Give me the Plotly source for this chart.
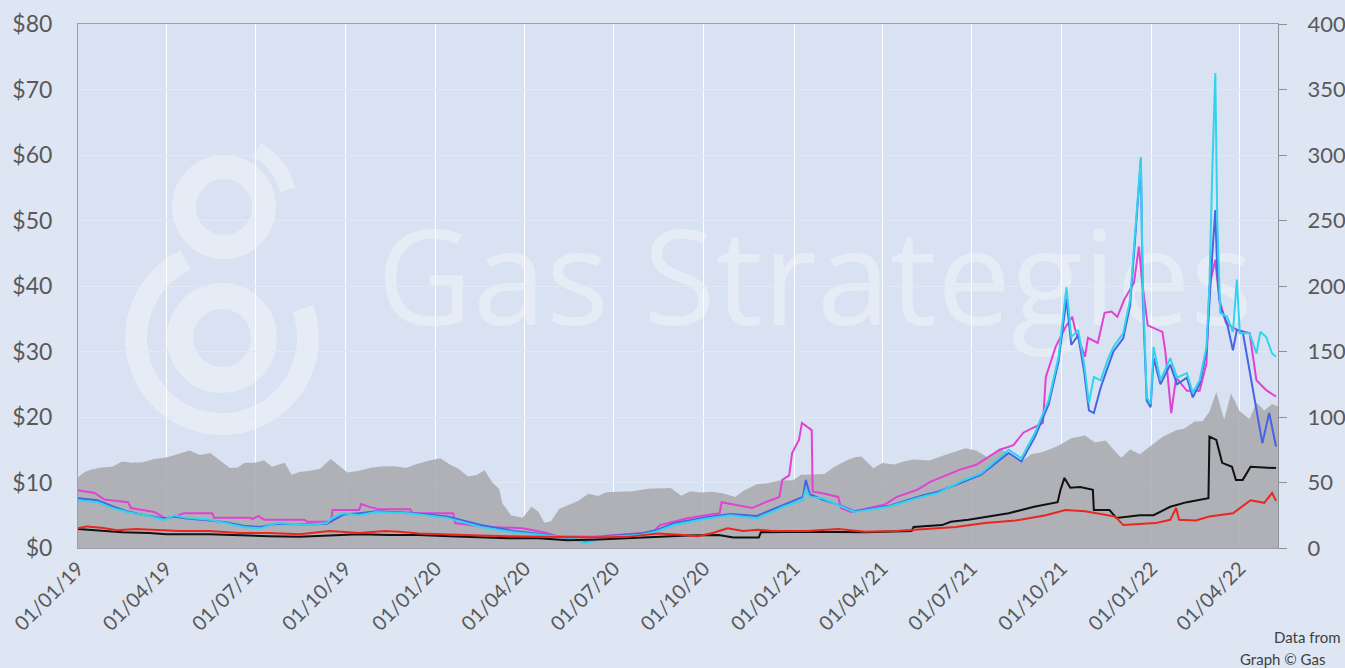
import numpy as np
import plotly.graph_objects as go

# ---------------- data ----------------
# Brent crude, $/bbl (right axis), grey area
brent_points = [
    ("2019-01-01", 54), ("2019-01-08", 58), ("2019-01-15", 60), ("2019-01-25", 61.5), ("2019-02-05", 62),
    ("2019-02-15", 66), ("2019-02-25", 65), ("2019-03-08", 65.5), ("2019-03-20", 68), ("2019-04-01", 69),
    ("2019-04-10", 71), ("2019-04-25", 74.5), ("2019-05-05", 71), ("2019-05-16", 72.5), ("2019-05-24", 68),
    ("2019-06-05", 61), ("2019-06-13", 61.5), ("2019-06-20", 65), ("2019-07-01", 65), ("2019-07-10", 67),
    ("2019-07-18", 62), ("2019-07-31", 65), ("2019-08-07", 56), ("2019-08-15", 58), ("2019-08-26", 59),
    ("2019-09-05", 60.5), ("2019-09-16", 68), ("2019-09-24", 63), ("2019-10-03", 57.7), ("2019-10-15", 59),
    ("2019-10-28", 61.5), ("2019-11-07", 62.3), ("2019-11-20", 62.4), ("2019-12-02", 61), ("2019-12-12", 64),
    ("2019-12-27", 67), ("2020-01-06", 68.5), ("2020-01-15", 64), ("2020-01-24", 60.7), ("2020-02-03", 54.5),
    ("2020-02-12", 55.8), ("2020-02-20", 59.3), ("2020-02-28", 50), ("2020-03-06", 45), ("2020-03-09", 34.4),
    ("2020-03-18", 25), ("2020-03-30", 23), ("2020-04-08", 31.5), ("2020-04-15", 27.7), ("2020-04-21", 19.3),
    ("2020-04-28", 20.5), ("2020-05-06", 29.7), ("2020-05-15", 32.5), ("2020-05-26", 36), ("2020-06-05", 41.5),
    ("2020-06-15", 39.7), ("2020-06-23", 42.6), ("2020-07-06", 43.1), ("2020-07-20", 43.3), ("2020-08-05", 45.2),
    ("2020-08-19", 45.4), ("2020-08-28", 45.8), ("2020-09-08", 39.8), ("2020-09-17", 43.3), ("2020-09-28", 42.4),
    ("2020-10-09", 42.9), ("2020-10-20", 41.7), ("2020-11-02", 38.9), ("2020-11-10", 43.6), ("2020-11-24", 48.6),
    ("2020-12-04", 49.3), ("2020-12-17", 51.5), ("2020-12-31", 51.8), ("2021-01-08", 55.9), ("2021-01-20", 56.1),
    ("2021-02-01", 56.4), ("2021-02-10", 61.5), ("2021-02-24", 67), ("2021-03-05", 69.4), ("2021-03-11", 69.6),
    ("2021-03-23", 60.8), ("2021-04-01", 64.9), ("2021-04-13", 63.7), ("2021-04-23", 66.1), ("2021-05-03", 67.6),
    ("2021-05-19", 66.7), ("2021-06-01", 70.3), ("2021-06-15", 73.9), ("2021-06-25", 76.2), ("2021-07-06", 74.5),
    ("2021-07-19", 68.6), ("2021-07-30", 76.3), ("2021-08-10", 70.6), ("2021-08-20", 65.2), ("2021-08-31", 71.6),
    ("2021-09-10", 72.9), ("2021-09-22", 76.2), ("2021-10-01", 79.3), ("2021-10-11", 83.7), ("2021-10-25", 85.9),
    ("2021-11-04", 80.5), ("2021-11-15", 82), ("2021-11-26", 72.7), ("2021-12-01", 68.9), ("2021-12-10", 75.2),
    ("2021-12-20", 71.5), ("2021-12-31", 77.8), ("2022-01-12", 84.7), ("2022-01-26", 89.9), ("2022-02-03", 91.1),
    ("2022-02-14", 96.5), ("2022-02-22", 96.8), ("2022-03-01", 104), ("2022-03-08", 119), ("2022-03-16", 98),
    ("2022-03-23", 118), ("2022-04-01", 104.4), ("2022-04-11", 98.5), ("2022-04-18", 111), ("2022-04-26", 105),
    ("2022-05-04", 110), ("2022-05-10", 108),
]

# Gas prices, $/MMBtu (left axis)
pink_points = [
    ("2019-01-01", 8.8), ("2019-01-18", 8.4), ("2019-01-28", 7.4), ("2019-02-21", 7.0), ("2019-02-24", 6.1),
    ("2019-03-20", 5.5), ("2019-04-01", 4.5), ("2019-04-12", 4.9), ("2019-04-19", 5.3), ("2019-05-18", 5.3),
    ("2019-05-20", 4.6), ("2019-06-26", 4.6), ("2019-06-28", 4.4), ("2019-07-04", 4.9), ("2019-07-10", 4.3),
    ("2019-08-20", 4.3), ("2019-08-23", 4.0), ("2019-09-16", 4.0), ("2019-09-18", 5.8), ("2019-10-15", 5.8),
    ("2019-10-17", 6.7), ("2019-10-27", 6.2), ("2019-11-05", 5.9), ("2019-12-06", 5.9), ("2019-12-09", 5.3),
    ("2020-01-19", 5.3), ("2020-01-21", 3.8), ("2020-02-20", 3.2), ("2020-03-20", 3.1), ("2020-03-30", 3.0),
    ("2020-04-20", 2.4), ("2020-05-05", 1.8), ("2020-06-10", 1.7), ("2020-07-10", 2.0), ("2020-08-10", 2.4),
    ("2020-08-17", 3.5), ("2020-09-13", 4.5), ("2020-10-03", 5.0), ("2020-10-17", 5.3), ("2020-10-19", 7.0),
    ("2020-11-15", 6.3), ("2020-11-19", 6.1), ("2020-12-03", 7.0), ("2020-12-17", 7.8), ("2020-12-20", 10.4),
    ("2020-12-27", 11.1), ("2020-12-30", 14.5), ("2021-01-06", 16.5), ("2021-01-09", 19.1), ("2021-01-16", 18.3),
    ("2021-01-19", 18.0), ("2021-01-20", 8.6), ("2021-01-29", 8.4), ("2021-02-15", 7.8), ("2021-02-18", 6.1),
    ("2021-02-28", 5.5), ("2021-04-03", 6.6), ("2021-04-16", 7.8), ("2021-05-07", 8.9), ("2021-05-20", 10.1),
    ("2021-06-20", 12.0), ("2021-07-06", 12.7), ("2021-07-30", 15.0), ("2021-08-13", 15.7), ("2021-08-23", 17.6),
    ("2021-09-12", 19.1), ("2021-09-15", 26.1), ("2021-09-25", 30.7), ("2021-10-05", 33.7), ("2021-10-12", 35.3),
    ("2021-10-15", 33.3), ("2021-10-25", 29.2), ("2021-10-28", 32.1), ("2021-11-07", 31.3), ("2021-11-14", 35.9),
    ("2021-11-21", 36.1), ("2021-11-27", 35.3), ("2021-12-04", 37.9), ("2021-12-14", 40.5), ("2021-12-19", 46.0),
    ("2021-12-22", 41.0), ("2021-12-28", 34.0), ("2022-01-04", 33.5), ("2022-01-12", 33.0), ("2022-01-15", 30.0),
    ("2022-01-18", 25.6), ("2022-01-21", 20.6), ("2022-01-26", 26.0), ("2022-02-06", 24.0), ("2022-02-19", 24.0),
    ("2022-02-26", 28.2), ("2022-03-01", 40.0), ("2022-03-07", 44.0), ("2022-03-11", 38.0), ("2022-03-18", 34.3),
    ("2022-03-29", 33.3), ("2022-04-11", 32.8), ("2022-04-18", 25.6), ("2022-04-28", 24.1), ("2022-05-08", 23.1),
]

blue_points = [
    ("2019-01-01", 7.6), ("2019-01-21", 7.3), ("2019-02-03", 6.5), ("2019-02-20", 5.6), ("2019-03-10", 5.0),
    ("2019-03-30", 4.5), ("2019-04-09", 4.8), ("2019-04-22", 4.5), ("2019-05-16", 4.2), ("2019-06-02", 3.9),
    ("2019-06-19", 3.4), ("2019-07-06", 3.2), ("2019-07-23", 3.7), ("2019-08-26", 3.6), ("2019-09-12", 3.7),
    ("2019-09-19", 4.3), ("2019-09-29", 5.1), ("2019-10-15", 5.3), ("2019-11-01", 5.6), ("2019-12-05", 5.4),
    ("2020-01-13", 4.8), ("2020-02-16", 3.5), ("2020-03-21", 2.6), ("2020-04-20", 2.1), ("2020-05-21", 1.4),
    ("2020-05-31", 0.9), ("2020-06-07", 1.0), ("2020-06-23", 1.8), ("2020-07-28", 2.2), ("2020-08-13", 2.7),
    ("2020-08-31", 3.8), ("2020-10-04", 4.7), ("2020-10-28", 5.2), ("2020-11-24", 4.9), ("2020-12-21", 6.6),
    ("2021-01-10", 7.8), ("2021-01-13", 10.4), ("2021-01-17", 8.2), ("2021-01-30", 7.4), ("2021-02-19", 6.4),
    ("2021-03-04", 5.6), ("2021-04-07", 6.4), ("2021-05-11", 8.0), ("2021-05-28", 8.6), ("2021-06-21", 10.0),
    ("2021-07-11", 11.2), ("2021-08-08", 14.5), ("2021-08-21", 13.2), ("2021-09-04", 17.0), ("2021-09-18", 22.0),
    ("2021-09-28", 28.5), ("2021-10-06", 38.0), ("2021-10-11", 31.0), ("2021-10-18", 32.5), ("2021-10-24", 27.0),
    ("2021-10-29", 21.0), ("2021-11-03", 20.6), ("2021-11-10", 24.5), ("2021-11-17", 27.5), ("2021-11-23", 30.0),
    ("2021-12-03", 32.0), ("2021-12-10", 37.0), ("2021-12-15", 47.0), ("2021-12-21", 59.3), ("2021-12-23", 38.0),
    ("2021-12-27", 22.5), ("2021-12-31", 21.5), ("2022-01-03", 29.0), ("2022-01-10", 25.0), ("2022-01-20", 28.0),
    ("2022-01-27", 25.0), ("2022-02-06", 26.0), ("2022-02-12", 23.0), ("2022-02-19", 25.0), ("2022-02-26", 30.0),
    ("2022-03-01", 38.0), ("2022-03-04", 45.0), ("2022-03-07", 51.6), ("2022-03-09", 42.0), ("2022-03-12", 36.8),
    ("2022-03-19", 34.3), ("2022-03-25", 30.2), ("2022-03-29", 33.3), ("2022-04-04", 33.0), ("2022-04-14", 24.6),
    ("2022-04-24", 16.0), ("2022-05-01", 20.6), ("2022-05-08", 15.5),
]

cyan_points = [
    ("2019-01-01", 7.3), ("2019-01-21", 7.0), ("2019-02-03", 6.2), ("2019-02-20", 5.5), ("2019-03-10", 5.0),
    ("2019-03-30", 4.3), ("2019-04-09", 5.0), ("2019-04-22", 4.6), ("2019-05-16", 4.3), ("2019-06-02", 3.8),
    ("2019-06-19", 3.2), ("2019-07-06", 3.0), ("2019-07-23", 3.8), ("2019-08-26", 3.5), ("2019-09-12", 3.8),
    ("2019-09-19", 4.8), ("2019-09-29", 5.3), ("2019-10-15", 5.0), ("2019-11-01", 5.5), ("2019-12-05", 5.3),
    ("2020-01-13", 4.6), ("2020-02-16", 3.2), ("2020-03-21", 2.4), ("2020-04-20", 2.0), ("2020-05-21", 1.5),
    ("2020-05-31", 0.8), ("2020-06-07", 0.9), ("2020-06-23", 1.7), ("2020-07-28", 2.0), ("2020-08-13", 2.5),
    ("2020-08-31", 3.5), ("2020-10-04", 4.5), ("2020-10-28", 5.0), ("2020-11-24", 4.5), ("2020-12-21", 6.3),
    ("2021-01-10", 7.3), ("2021-01-13", 9.0), ("2021-01-17", 7.8), ("2021-01-30", 7.6), ("2021-02-19", 6.3),
    ("2021-03-04", 5.5), ("2021-04-07", 6.3), ("2021-05-11", 7.8), ("2021-05-28", 8.4), ("2021-06-21", 10.2),
    ("2021-07-11", 11.4), ("2021-08-08", 15.0), ("2021-08-21", 13.7), ("2021-09-04", 17.6), ("2021-09-18", 22.6),
    ("2021-09-28", 29.2), ("2021-10-06", 39.8), ("2021-10-11", 32.2), ("2021-10-18", 33.3), ("2021-10-24", 28.2),
    ("2021-10-29", 22.1), ("2021-11-03", 26.1), ("2021-11-10", 25.6), ("2021-11-17", 28.7), ("2021-11-23", 30.7),
    ("2021-12-03", 32.8), ("2021-12-10", 37.9), ("2021-12-15", 47.5), ("2021-12-21", 59.7), ("2021-12-23", 40.0),
    ("2021-12-27", 23.0), ("2021-12-31", 22.0), ("2022-01-03", 30.7), ("2022-01-10", 25.6), ("2022-01-20", 29.0),
    ("2022-01-27", 26.0), ("2022-02-06", 26.7), ("2022-02-12", 23.7), ("2022-02-19", 25.6), ("2022-02-26", 30.7),
    ("2022-03-01", 40.0), ("2022-03-04", 58.0), ("2022-03-07", 72.5), ("2022-03-09", 50.0), ("2022-03-12", 35.9),
    ("2022-03-19", 35.3), ("2022-03-25", 33.0), ("2022-03-29", 41.0), ("2022-04-01", 32.8), ("2022-04-11", 32.8),
    ("2022-04-18", 29.7), ("2022-04-22", 33.0), ("2022-04-28", 32.2), ("2022-05-04", 29.7), ("2022-05-08", 29.2),
]

black_points = [
    ("2019-01-01", 2.9), ("2019-01-20", 2.7), ("2019-02-15", 2.4), ("2019-03-15", 2.3), ("2019-04-01", 2.1),
    ("2019-05-15", 2.1), ("2019-06-15", 1.9), ("2019-07-15", 1.8), ("2019-08-15", 1.7), ("2019-09-15", 1.9),
    ("2019-10-15", 2.1), ("2019-11-15", 2.0), ("2019-12-15", 2.0), ("2020-01-15", 1.8), ("2020-02-15", 1.6),
    ("2020-03-15", 1.5), ("2020-04-15", 1.5), ("2020-05-15", 1.2), ("2020-06-15", 1.3), ("2020-07-15", 1.5),
    ("2020-08-15", 1.7), ("2020-09-15", 1.9), ("2020-10-16", 2.0), ("2020-10-31", 1.6), ("2020-11-26", 1.6),
    ("2020-11-28", 2.4), ("2021-01-15", 2.5), ("2021-03-15", 2.4), ("2021-05-01", 2.6), ("2021-05-03", 3.2),
    ("2021-06-01", 3.5), ("2021-06-10", 4.0), ("2021-06-28", 4.3), ("2021-07-15", 4.7), ("2021-08-08", 5.3),
    ("2021-09-03", 6.3), ("2021-09-27", 7.0), ("2021-09-30", 8.9), ("2021-10-04", 10.7), ("2021-10-10", 9.2),
    ("2021-10-20", 9.3), ("2021-11-02", 8.9), ("2021-11-03", 5.8), ("2021-11-19", 5.8), ("2021-11-26", 4.6),
    ("2021-12-20", 5.0), ("2022-01-03", 5.0), ("2022-01-20", 6.3), ("2022-02-06", 7.0), ("2022-02-28", 7.6),
    ("2022-03-01", 17.0), ("2022-03-08", 16.5), ("2022-03-14", 13.0), ("2022-03-24", 12.4), ("2022-03-28", 10.4),
    ("2022-04-04", 10.4), ("2022-04-12", 12.4), ("2022-05-08", 12.2),
]

red_points = [
    ("2019-01-01", 3.0), ("2019-01-10", 3.3), ("2019-01-25", 3.1), ("2019-02-10", 2.7), ("2019-03-01", 2.9),
    ("2019-03-20", 2.8), ("2019-04-15", 2.6), ("2019-05-15", 2.6), ("2019-06-15", 2.3), ("2019-07-15", 2.3),
    ("2019-08-15", 2.1), ("2019-09-15", 2.6), ("2019-10-15", 2.3), ("2019-11-10", 2.6), ("2019-11-25", 2.5),
    ("2019-12-15", 2.2), ("2020-01-15", 2.0), ("2020-02-15", 1.9), ("2020-03-15", 1.8), ("2020-04-15", 1.7),
    ("2020-05-15", 1.7), ("2020-06-15", 1.6), ("2020-07-15", 1.7), ("2020-08-15", 2.2), ("2020-09-10", 2.0),
    ("2020-09-25", 1.8), ("2020-10-10", 2.3), ("2020-10-25", 3.0), ("2020-11-10", 2.6), ("2020-11-25", 2.8),
    ("2020-12-10", 2.6), ("2021-01-15", 2.6), ("2021-02-15", 2.9), ("2021-03-15", 2.5), ("2021-04-15", 2.6),
    ("2021-05-15", 2.9), ("2021-06-15", 3.2), ("2021-07-15", 3.8), ("2021-08-15", 4.2), ("2021-09-15", 5.0),
    ("2021-10-05", 5.8), ("2021-10-25", 5.6), ("2021-11-10", 5.2), ("2021-11-25", 4.8), ("2021-12-03", 3.5),
    ("2021-12-20", 3.6), ("2022-01-05", 3.8), ("2022-01-20", 4.3), ("2022-01-26", 6.1), ("2022-01-29", 4.3),
    ("2022-02-15", 4.2), ("2022-03-01", 4.8), ("2022-03-25", 5.3), ("2022-04-12", 7.3), ("2022-04-26", 6.9),
    ("2022-05-04", 8.4), ("2022-05-08", 7.2),
]

x_tick_dates = ["2019-01-01", "2019-04-01", "2019-07-01", "2019-10-01", "2020-01-01", "2020-04-01",
                "2020-07-01", "2020-10-01", "2021-01-01", "2021-04-01", "2021-07-01", "2021-10-01",
                "2022-01-01", "2022-04-01"]
x_range = ["2019-01-01", "2022-05-10"]
left_range = [0, 80]
right_range = [0, 400]
credit_lines = ["Data from", "Graph © Gas"]


def split(points):
    return [p[0] for p in points], [p[1] for p in points]


fig = go.Figure()

# grey area on the base (right-hand) axis so that the gas lines (overlaying axis) sit on top
bx, by = split(brent_points)
fig.add_trace(go.Scatter(x=bx, y=by, yaxis="y", mode="lines", fill="tozeroy",
                         line=dict(width=0, color="rgba(167,168,171,0.85)"),
                         fillcolor="rgba(167,168,171,0.85)", hoverinfo="skip"))

for pts, col in [(pink_points, "#e242d2"), (blue_points, "#4664e4"), (cyan_points, "#30d4ef"),
                 (black_points, "#111111"), (red_points, "#e8281e")]:
    xx, yy = split(pts)
    fig.add_trace(go.Scatter(x=xx, y=yy, yaxis="y2", mode="lines", line=dict(width=2, color=col)))

# ---------------- layout geometry (page pixels; body margin removed below) ----------------
FIG_W, FIG_H = 1345, 668
L, R, T, B = 78, 1278, 24, 548
W, H = R - L, B - T


def px2p(px, py):
    return (px - L) / W, (B - py) / H


# ---------------- watermark (decoration) ----------------
wm = "rgba(255,255,255,0.34)"
shapes = []


def circle(cx, cy, r, lw):
    x0, y0 = px2p(cx - r, cy + r)
    x1, y1 = px2p(cx + r, cy - r)
    shapes.append(dict(type="circle", xref="paper", yref="paper", x0=x0, y0=y0, x1=x1, y1=y1,
                       line=dict(color=wm, width=lw), layer="between"))


def arc(cx, cy, r, a0, a1, lw):
    ang = np.radians(np.linspace(a0, a1, 60))
    pts = [px2p(cx + r * np.cos(a), cy - r * np.sin(a)) for a in ang]
    path = "M " + " L ".join(f"{p[0]:.5f},{p[1]:.5f}" for p in pts)
    shapes.append(dict(type="path", xref="paper", yref="paper", path=path,
                       line=dict(color=wm, width=lw), layer="between"))


circle(224, 207, 40, 24)
circle(222, 338, 42, 26)
arc(222, 338, 86, 115, 380, 22)
arc(224, 207, 66, 15, 60, 16)

tx0, ty0 = px2p(365, 350)
tx1, ty1 = px2p(1265, 215)
shapes.append(dict(type="rect", xref="paper", yref="paper", x0=tx0, y0=ty0, x1=tx1, y1=ty1,
                   line=dict(width=0), fillcolor="rgba(0,0,0,0)", layer="between",
                   label=dict(text="Gas Strategies", textposition="middle center",
                              font=dict(family="Open Sans", size=132, color=wm))))

fig.update_layout(
    width=FIG_W, height=FIG_H,
    margin=dict(l=L, r=FIG_W - R, t=T, b=FIG_H - B),
    paper_bgcolor="#dee6f3", plot_bgcolor="#d9e2f2",
    showlegend=False,
    font=dict(family="Lato", color="#595959"),
    shapes=shapes,
    xaxis=dict(type="date", range=x_range, tickvals=x_tick_dates, tickformat="%d/%m/%y",
               tickangle=-45, tickfont=dict(size=20, color="#595959"),
               showgrid=True, gridcolor="#ffffff", gridwidth=1,
               showline=True, linecolor="#9aa0aa", linewidth=1, mirror=True,
               ticks="", zeroline=False, automargin=False),
    yaxis=dict(range=right_range, dtick=50, side="right",
               tickfont=dict(size=22, color="#595959"),
               showgrid=True, gridcolor="#e2e8f4", gridwidth=1,
               showline=True, linecolor="#8c9099", linewidth=1,
               ticks="outside", ticklen=8, tickcolor="#8c9099", ticklabelstandoff=16,
               zeroline=False, automargin=False),
    yaxis2=dict(range=left_range, dtick=10, tickprefix="$", overlaying="y", side="left",
                tickfont=dict(size=23, color="#595959"), showgrid=False,
                showline=True, linecolor="#9aa0aa", linewidth=1,
                ticks="", ticklabelstandoff=20, zeroline=False, automargin=False),
    annotations=[
        dict(text=credit_lines[0], xref="paper", yref="paper",
             x=px2p(1272, 0)[0], y=px2p(0, 637)[1], xanchor="left", yanchor="middle",
             showarrow=False, font=dict(size=15, color="#404040", family="Lato")),
        dict(text=credit_lines[1], xref="paper", yref="paper",
             x=px2p(1238, 0)[0], y=px2p(0, 659)[1], xanchor="left", yanchor="middle",
             showarrow=False, font=dict(size=15, color="#404040", family="Lato")),
    ],
)

fig.write_html(
    "out.html",
    config={"displayModeBar": False},
    post_script="document.body.style.margin='0px';document.body.style.overflow='hidden';"
                "document.documentElement.style.overflow='hidden';",
)
